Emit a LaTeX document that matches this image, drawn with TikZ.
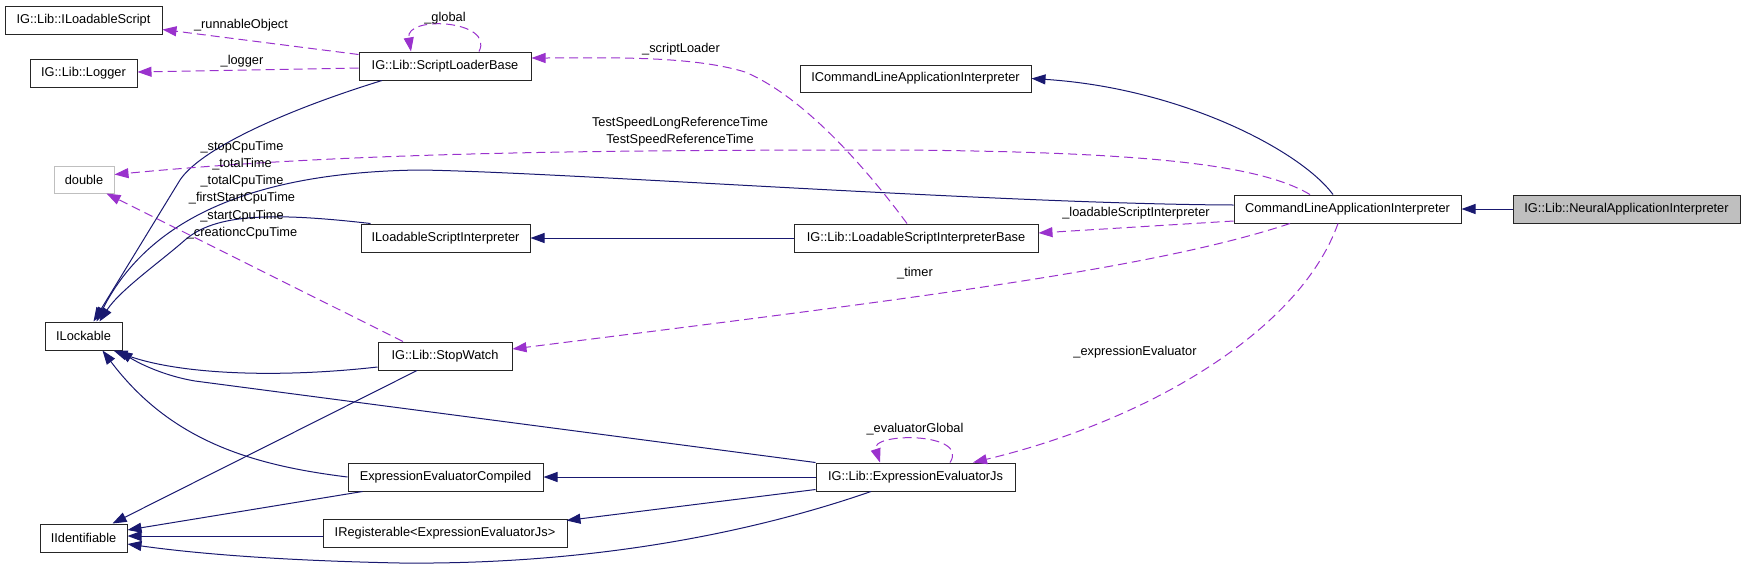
\documentclass[tikz,border=0pt]{standalone}
\usepackage{fontspec}
\setmainfont{Liberation Sans}
\usepackage{xcolor}
\usepackage{tikz}
\usetikzlibrary{arrows.meta, positioning}

\definecolor{inhcol}{RGB}{25,25,112}
\definecolor{usecol}{RGB}{154,50,205}

\begin{document}
\begin{tikzpicture}[x=1pt, y=-1pt,
    cls/.style={rectangle, draw=black!85, line width=1pt, fill=white, inner sep=0pt, minimum height=28pt, font=\fontsize{12.8}{15}\selectfont},
    inherit/.style={draw=inhcol, line width=1pt, -{Triangle[length=14pt,width=10pt]}},
    usage/.style={draw=usecol, line width=1pt, dash pattern=on 9pt off 5pt, -{Triangle[length=14pt,width=10pt]}},
    lbl/.style={inner sep=0pt, align=center, font=\fontsize{12.8}{17.2}\selectfont}]

    \useasboundingbox (0,0) rectangle (1744,571);

    \node [cls, minimum width=157pt] (ils) at (83.5,20) {IG::Lib::ILoadableScript};
    \node [cls, minimum width=107pt] (logger) at (83.5,73) {IG::Lib::Logger};
    \node [cls, minimum width=172pt] (slb) at (445,66) {IG::Lib::ScriptLoaderBase};
    \node [cls, draw=black!25, minimum width=60pt, minimum height=27pt] (dbl) at (84,179.5) {double};
    \node [cls, minimum width=77pt] (ilockable) at (83.5,336) {ILockable};
    \node [cls, minimum width=169pt] (ilsi) at (445.5,238) {ILoadableScriptInterpreter};
    \node [cls, minimum width=134pt] (watch) at (445,356) {IG::Lib::StopWatch};
    \node [cls, minimum width=87pt] (iident) at (83.5,538) {IIdentifiable};
    \node [cls, minimum width=195pt] (eec) at (445.5,477) {ExpressionEvaluatorCompiled};
    \node [cls, minimum width=244pt] (ireg) at (445,533) {IRegisterable<ExpressionEvaluatorJs>};
    \node [cls, minimum width=231pt, minimum height=27pt] (iclai) at (915.5,78.5) {ICommandLineApplicationInterpreter};
    \node [cls, minimum width=244pt] (lsib) at (916,238) {IG::Lib::LoadableScriptInterpreterBase};
    \node [cls, minimum width=227pt] (clai) at (1347.5,209) {CommandLineApplicationInterpreter};
    \node [cls, fill=black!25, minimum width=227pt, right=51pt of clai] (neural) {IG::Lib::NeuralApplicationInterpreter};
    \node [cls, minimum width=199pt] (eejs) at (915.5,477) {IG::Lib::ExpressionEvaluatorJs};

    \draw [inherit] (neural) -- (clai);
    \draw [inherit] ([xshift=-14.5pt]clai.north) .. controls (1300,150) and (1180,88) .. (iclai.east);
    \draw [inherit] (lsib) -- (ilsi);
    \draw [inherit] ([yshift=4pt]clai.west) .. controls (1000,204) and (560,172) .. (420,170) .. controls (260,172) and (150,215) .. ([xshift=13pt]ilockable.north);
    \draw [inherit] ([xshift=-63pt]slb.south) .. controls (280,112) and (200,150) .. (180,180) -- ([xshift=10pt]ilockable.north);
    \draw [inherit] ([xshift=10pt]ilsi.north west) .. controls (270,212) and (215,214) .. (185,240) .. controls (160,262) and (120,290) .. ([xshift=16pt]ilockable.north);
    \draw [inherit] ([yshift=-11pt]watch.west) .. controls (280,378) and (180,375) .. ([xshift=-9pt]ilockable.south east);
    \draw [inherit] (eejs.north west) -- (195,381) .. controls (165,376) and (140,364) .. ([xshift=-4pt]ilockable.south east);
    \draw [inherit] (eec.west) .. controls (250,465) and (170,440) .. ([xshift=-20pt]ilockable.south east);
    \draw [inherit] ([xshift=-28pt]watch.south) -- ([xshift=-15pt]iident.north east);
    \draw [inherit] ([xshift=15pt]eec.south west) -- ([yshift=8pt]iident.east);
    \draw [inherit] ([yshift=-3pt]ireg.west) -- ([yshift=2pt]iident.east);
    \draw [inherit] ([xshift=-44.5pt]eejs.south) .. controls (760,530) and (600,565) .. (400,563) .. controls (250,560) and (170,550) .. ([yshift=-6pt]iident.east);
    \draw [inherit] (eejs.west) -- (eec.east);
    \draw [inherit] ([yshift=2pt]eejs.south west) -- ([shift={(-1pt,-2pt)}]ireg.north east);

    \draw [usage] ([yshift=-3pt]slb.north west) -- ([yshift=5pt]ils.south east) node [lbl] at (241,25) {\_runnableObject};
    \draw [usage] ([yshift=-2pt]slb.west) -- ([yshift=1pt]logger.east) node [lbl] at (242,61) {\_logger};
    \draw [usage] ([xshift=34pt]slb.north) .. controls (495,20) and (405,15) .. ([xshift=-34pt]slb.north) node [lbl] at (445,18) {\_global};
    \draw [usage] ([xshift=-9pt]lsib.north) .. controls (860,160) and (800,95) .. (745,72) .. controls (690,55) and (600,58) .. ([yshift=8pt]slb.east) node [lbl] at (681,49) {\_scriptLoader};
    \draw [usage] ([xshift=-37.5pt]clai.north) .. controls (1260,165) and (1150,152) .. (900,150) .. controls (600,150) and (350,152) .. ([yshift=5pt]dbl.east) node [lbl] at (680,132) {TestSpeedLongReferenceTime\\TestSpeedReferenceTime};
    \draw [usage] ([xshift=-42pt]watch.north) -- ([xshift=-8pt]dbl.south east) node [lbl] at (242,190) {\_stopCpuTime\\\_totalTime\\\_totalCpuTime\\\_firstStartCpuTime\\\_startCpuTime\\\_creationcCpuTime};
    \draw [usage] ([yshift=-12pt]clai.west) -- ([yshift=5pt]lsib.east) node [lbl] at (1136,213) {\_loadableScriptInterpreter};
    \draw [usage] ([xshift=-57.5pt]clai.south) .. controls (1150,270) and (900,300) .. ([yshift=7pt]watch.east) node [lbl] at (915,273) {\_timer};
    \draw [usage] ([xshift=-9.5pt]clai.south) .. controls (1300,330) and (1150,420) .. ([xshift=57.5pt]eejs.north) node [lbl] at (1135,352) {\_expressionEvaluator};
    \draw [usage] ([xshift=34.5pt]eejs.north) .. controls (970,432) and (870,432) .. ([xshift=-35.5pt]eejs.north) node [lbl] at (915,429) {\_evaluatorGlobal};
\end{tikzpicture}
\end{document}
